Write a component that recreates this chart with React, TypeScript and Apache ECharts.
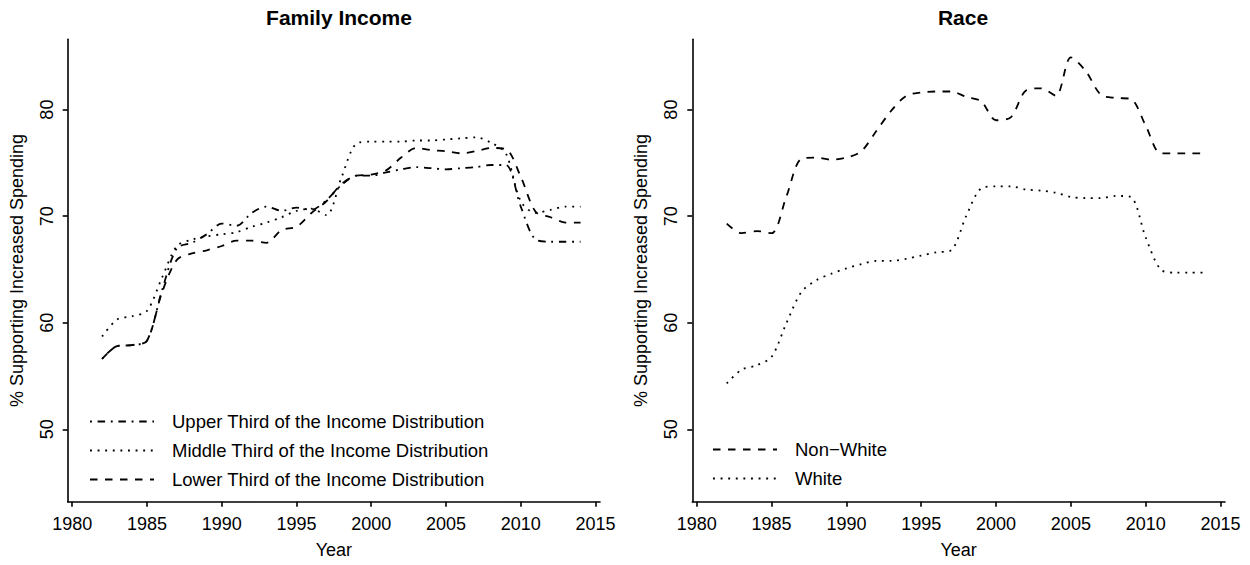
import React, { useEffect, useRef } from "react";
import * as echarts from "echarts";

const years = [
  1982, 1983, 1984, 1985, 1986, 1987, 1988, 1989, 1990, 1991, 1992,
  1993, 1994, 1995, 1996, 1997, 1998, 1999, 2000, 2001, 2002, 2003,
  2004, 2005, 2006, 2007, 2008, 2009, 2010, 2011, 2012, 2013, 2014,
];

const upperThird = [
  56.6, 57.8, 57.9, 58.3, 63.0, 67.0, 67.5, 68.3, 69.3, 69.1, 70.3,
  70.9, 70.5, 70.8, 70.6, 71.5, 72.9, 73.8, 73.8, 74.1, 74.4, 74.6,
  74.5, 74.4, 74.5, 74.6, 74.8, 74.8, 70.9, 67.8, 67.6, 67.6, 67.6,
];
const middleThird = [
  58.7, 60.3, 60.6, 61.1, 64.2, 67.2, 67.8, 68.1, 68.3, 68.5, 69.0,
  69.4, 69.9, 70.5, 70.7, 70.1, 73.6, 76.8, 77.0, 77.0, 77.0, 77.1,
  77.1, 77.2, 77.3, 77.4, 76.9, 75.9, 71.4, 70.3, 70.6, 70.9, 70.9,
];
const lowerThird = [
  56.6, 57.8, 57.9, 58.3, 62.8, 65.9, 66.5, 66.8, 67.2, 67.7, 67.7,
  67.5, 68.7, 69.0, 70.3, 71.4, 73.0, 73.8, 73.9, 74.3, 75.5, 76.4,
  76.2, 76.1, 75.9, 76.1, 76.4, 76.3, 73.7, 70.4, 69.9, 69.4, 69.4,
];
const nonWhite = [
  69.3, 68.4, 68.6, 68.4, 71.9, 75.4, 75.5, 75.3, 75.5, 76.1, 78.0,
  79.9, 81.3, 81.6, 81.7, 81.7, 81.2, 80.8, 79.0, 79.3, 81.8, 82.0,
  81.3, 84.9, 83.6, 81.4, 81.1, 81.0, 78.5, 75.9, 75.9, 75.9, 75.9,
];
const white = [
  54.3, 55.6, 56.0, 56.8, 60.0, 62.9, 64.0, 64.6, 65.1, 65.5, 65.8,
  65.8, 66.0, 66.3, 66.6, 66.8, 70.0, 72.6, 72.8, 72.8, 72.5, 72.4,
  72.2, 71.8, 71.7, 71.7, 71.9, 71.8, 68.0, 65.0, 64.7, 64.7, 64.7,
];

const xTicks = [1980, 1985, 1990, 1995, 2000, 2005, 2010, 2015];
const yTicks = [50, 60, 70, 80];

const FONT = "Liberation Sans, Arial, Helvetica, sans-serif";
const DASHED = [7.5, 7.5];
const DOTTED = [1.9, 5.7];
const DOTDASH = [1.9, 5.7, 7.5, 5.7];

const pairs = (vals: number[]) => years.map((y, i) => [y, vals[i]]);

function makeXAxis(gridIndex: number) {
  return {
    type: "value",
    gridIndex,
    min: 1979.7,
    max: 2015.3,
    name: "Year",
    nameLocation: "middle",
    nameGap: 39,
    nameTextStyle: { fontFamily: FONT, fontSize: 18, color: "#000" },
    axisLine: { show: true, onZero: false, lineStyle: { color: "#000", width: 1.6 } },
    axisTick: {
      show: true,
      length: 5,
      customValues: xTicks,
      lineStyle: { color: "#000", width: 1.6 },
    },
    axisLabel: {
      customValues: xTicks,
      margin: 13,
      fontFamily: FONT,
      fontSize: 18,
      color: "#000",
      formatter: (v: number) => String(v),
    },
    splitLine: { show: false },
  };
}

function makeYAxis(gridIndex: number) {
  return {
    type: "value",
    gridIndex,
    min: 43.2,
    max: 86.6,
    name: "% Supporting Increased Spending",
    nameLocation: "middle",
    nameGap: 42,
    nameTextStyle: { fontFamily: FONT, fontSize: 18, color: "#000" },
    axisLine: { show: true, onZero: false, lineStyle: { color: "#000", width: 1.6 } },
    axisTick: {
      show: true,
      length: 5,
      customValues: yTicks,
      lineStyle: { color: "#000", width: 1.6 },
    },
    axisLabel: {
      customValues: yTicks,
      rotate: 90,
      margin: 12,
      fontFamily: FONT,
      fontSize: 18,
      color: "#000",
    },
    splitLine: { show: false },
  };
}

function lineSeries(name: string, vals: number[], idx: number, dash: number[]) {
  return {
    type: "line",
    name,
    xAxisIndex: idx,
    yAxisIndex: idx,
    data: pairs(vals),
    symbol: "none",
    showSymbol: false,
    smooth: 0.3,
    lineStyle: { color: "#000", width: 1.8, type: dash, cap: "butt" },
    itemStyle: { color: "#000" },
    emphasis: { disabled: true },
  };
}

export default function App() {
  const ref = useRef<HTMLDivElement>(null);
  useEffect(() => {
    if (!ref.current) return;
    const chart = echarts.init(ref.current, undefined, { renderer: "svg" });
    const legendText = {
      fontFamily: FONT,
      fontSize: 18.5,
      color: "#000",
      padding: [0, 0, 0, 13],
    };
    const legendCommon = {
      orient: "vertical",
      itemWidth: 64,
      itemHeight: 18,
      itemGap: 10,
      textStyle: legendText,
      inactiveColor: "#bbb",
      itemStyle: { color: "rgba(0,0,0,0)", borderWidth: 0, opacity: 0 },
    };
    chart.setOption({
      animation: false,
      backgroundColor: "#fff",
      title: [
        {
          text: "Family Income",
          left: 334,
          textAlign: "center",
          top: 2,
          textStyle: { fontFamily: FONT, fontSize: 21, fontWeight: "bold", color: "#000" },
        },
        {
          text: "Race",
          left: 958,
          textAlign: "center",
          top: 2,
          textStyle: { fontFamily: FONT, fontSize: 21, fontWeight: "bold", color: "#000" },
        },
      ],
      grid: [
        { left: 67.7, right: 650, top: 39.3, bottom: 63.3, containLabel: false },
        { left: 692.3, right: 25, top: 39.3, bottom: 63.3, containLabel: false },
      ],
      xAxis: [makeXAxis(0), makeXAxis(1)],
      yAxis: [makeYAxis(0), makeYAxis(1)],
      legend: [
        {
          ...legendCommon,
          left: 84,
          top: 407,
          data: [
            "Upper Third of the Income Distribution",
            "Middle Third of the Income Distribution",
            "Lower Third of the Income Distribution",
          ],
        },
        {
          ...legendCommon,
          left: 707,
          top: 435,
          data: ["Non\u2212White", "White"],
        },
      ],
      series: [
        lineSeries("Upper Third of the Income Distribution", upperThird, 0, DOTDASH),
        lineSeries("Middle Third of the Income Distribution", middleThird, 0, DOTTED),
        lineSeries("Lower Third of the Income Distribution", lowerThird, 0, DASHED),
        lineSeries("Non\u2212White", nonWhite, 1, DASHED),
        lineSeries("White", white, 1, DOTTED),
      ],
    });
    return () => chart.dispose();
  }, []);
  return (
    <div
      ref={ref}
      style={{ position: "absolute", left: 0, top: 0, width: 1250, height: 565 }}
    />
  );
}
